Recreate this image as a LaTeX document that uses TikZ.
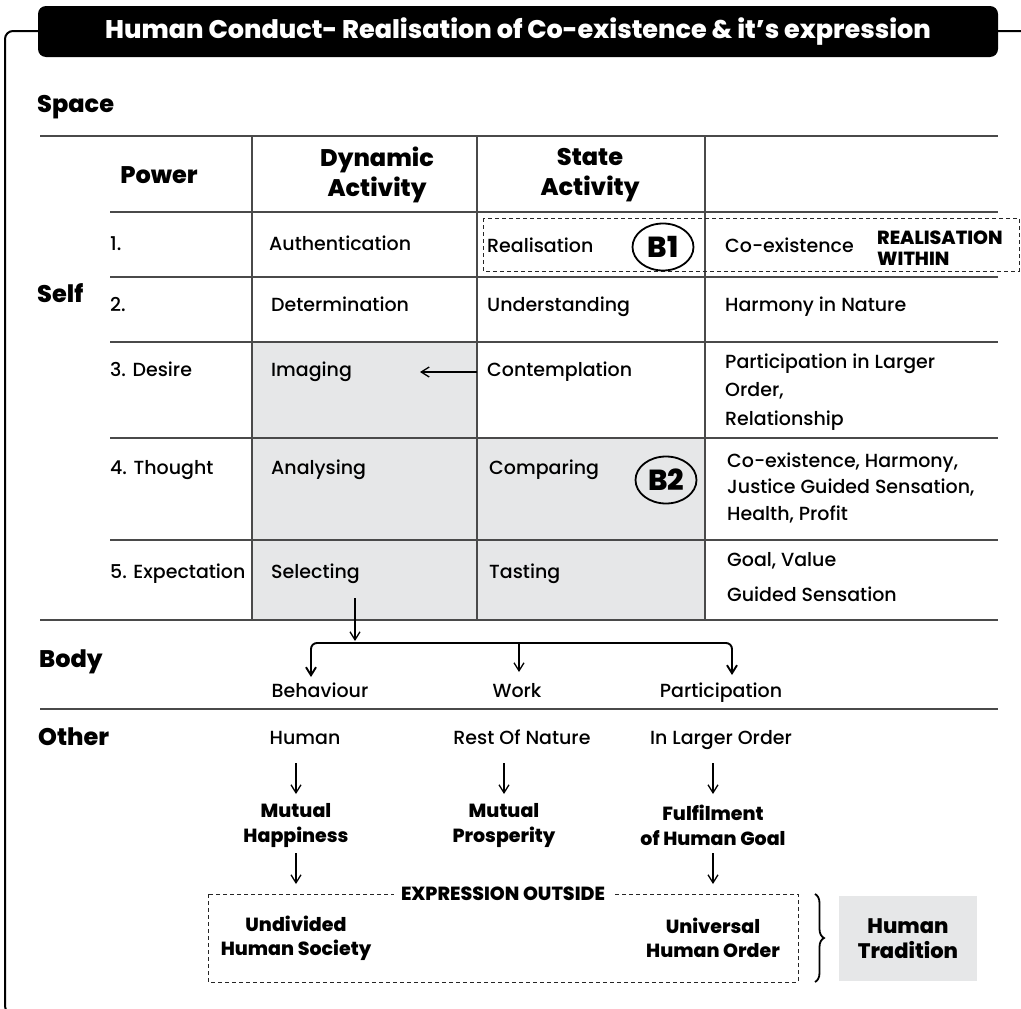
\documentclass[tikz,border=0pt]{standalone}
\usepackage{fontspec}
\setmainfont{Poppins}[UprightFont={* Medium}]
\usetikzlibrary{arrows.meta,shapes.geometric,decorations.pathreplacing,calc}
\definecolor{cellgray}{HTML}{E6E7E8}
\definecolor{rulegray}{HTML}{4A4A4A}

\tikzset{
  gridline/.style={draw=rulegray, line width=1.5pt},
  frameline/.style={draw=black, line width=2pt},
  cell/.style={anchor=west, inner sep=0pt, text height=14pt, text depth=5pt,
               font=\fontsize{19}{24}\selectfont},
  cellm/.style={anchor=west, inner sep=0pt, align=left,
               font=\fontsize{19}{28.5}\selectfont},
  head/.style={inner sep=0pt, align=center, font=\bfseries\fontsize{24}{30}\selectfont},
  side/.style={anchor=west, inner sep=0pt, text height=17pt, text depth=6pt,
               font=\bfseries\fontsize{24}{28}\selectfont},
  lbl/.style={inner sep=0pt, text height=14pt, text depth=5pt, font=\fontsize{19}{24}\selectfont},
  boldlbl/.style={inner sep=0pt, align=center, font=\bfseries\fontsize{19}{25}\selectfont},
  arr/.style={-{Straight Barb[length=8pt,width=10pt]}, line width=1.3pt},
  badge/.style={ellipse, draw, line width=1.8pt, minimum width=61pt, minimum height=47pt,
                inner sep=0pt, font=\bfseries\fontsize{29}{30}\selectfont},
  dbox/.style={draw=black!85, line width=0.9pt, dash pattern=on 4pt off 3pt},
}

\begin{document}
\begin{tikzpicture}[x=1pt,y=-1pt]
\clip (0,0) rectangle (1021,1009);

% outer frame
\draw[frameline, rounded corners=8pt] (1030,31) -- (5,31) -- (5,1014) -- (40,1014);

% title bar
\node[fill=black, rounded corners=8pt, minimum width=960pt, minimum height=51pt,
      inner sep=0pt, text=white, font=\bfseries\fontsize{25.5}{28}\selectfont]
      (title) at (518,31.5) {Human Conduct- Realisation of Co-existence \& it’s expression};

% shaded cells
\fill[cellgray] (252,342) rectangle (477,620);
\fill[cellgray] (477,438) rectangle (705,620);

% table rules
\draw[gridline] (40,136) -- (998,136);
\foreach \yy in {212,277,342,438,540} \draw[gridline] (110,\yy) -- (998,\yy);
\draw[gridline] (40,620) -- (998,620);
\draw[gridline] (40,709) -- (998,709);
\foreach \xx in {252,477,705} \draw[gridline] (\xx,136) -- (\xx,620);

% section labels
\node[side] (space) at (37,107) {Space};
\node[side] (self)  at (37,297) {Self};
\node[side] (body)  at (39,662) {Body};
\node[side] (other) at (38,740) {Other};

% header
\node[head] (hpow) at (159,175) {Power};
\node[head] (hdyn) at (377,175) {Dynamic\\Activity};
\node[head] (hsta) at (590,175) {State\\Activity};

% power column
\node[cell] (p1) at (110,246) {1.};
\node[cell] (p2) at (110,307) {2.};
\node[cell] (p3) at (110,372) {3. Desire};
\node[cell] (p4) at (110,470) {4. Thought};
\node[cell] (p5) at (110,574) {5. Expectation};

% dynamic activity column
\node[cell] (d1) at (269,246) {Authentication};
\node[cell] (d2) at (271,307) {Determination};
\node[cell] (d3) at (271,372) {Imaging};
\node[cell] (d4) at (271,470) {Analysing};
\node[cell] (d5) at (271,574) {Selecting};

% state activity column
\node[cell] (s1) at (487,248) {Realisation};
\node[cell] (s2) at (487,307) {Understanding};
\node[cell] (s3) at (487,372) {Contemplation};
\node[cell] (s4) at (489,470) {Comparing};
\node[cell] (s5) at (489,574) {Tasting};

% outcome column
\node[cell] (o1) at (725,248) {Co-existence};
\node[cell] (o2) at (725,307) {Harmony in Nature};
\node[cellm] (o3) at (725,392) {Participation in Larger\\Order,\\Relationship};
\node[cellm, font=\fontsize{19}{26.5}\selectfont] (o4) at (727,488)
      {Co-existence, Harmony,\\Justice Guided Sensation,\\Health, Profit};
\node[cell] (o5a) at (727,562) {Goal, Value};
\node[cell] (o5b) at (727,597) {Guided Sensation};

% realisation within
\draw[dbox] (483,218) rectangle (1019,271);
\node[anchor=west, inner sep=0pt, align=left, font=\bfseries\fontsize{19}{20.5}\selectfont]
      (within) at (877,248) {REALISATION\\WITHIN};
\node[badge] (b1) at (663,247) {B1};
\node[badge] (b2) at (666,480) {B2};

% contemplation feeds imaging
\coordinate (c3l) at (477,372);
\coordinate (i3r) at (420,372);
\draw[arr] (c3l) -- (i3r);

% selecting splits into behaviour, work, participation
\coordinate (selb) at (355,598);
\coordinate (selh) at (355,641);
\coordinate (split) at (519,643);
\draw[arr] (selb) -- (selh);
\node[lbl] (beh)  at (320,693) {Behaviour};
\node[lbl] (work) at (517,693) {Work};
\node[lbl] (part) at (721,693) {Participation};
\coordinate (behtop)  at (311,677);
\coordinate (worktop) at (519,672);
\coordinate (parttop) at (732,675);
\draw[arr, line width=1.9pt, rounded corners=6pt] (split) -| (behtop);
\draw[arr, line width=1.9pt, rounded corners=6pt] (split) -| (parttop);
\draw[arr] (split) -- (worktop);

% other
\node[lbl] (hum)  at (305,740) {Human};
\node[lbl] (rest) at (522,740) {Rest Of Nature};
\node[lbl] (lord) at (721,740) {In Larger Order};

\node[boldlbl] (mh) at (296,825.5) {Mutual\\Happiness};
\node[boldlbl] (mp) at (504,825.5) {Mutual\\Prosperity};
\node[boldlbl] (fg) at (713,825.5) {Fulfilment\\of Human Goal};

\draw[arr] (296,763) -- (296,794);
\draw[arr] (504,763) -- (504,794);
\draw[arr] (713,763) -- (713,794);
\draw[arr] (296,853) -- (296,884);
\draw[arr] (713,853) -- (713,884);

% expression outside
\draw[dbox] (208,894) rectangle (798,982);
\node[fill=white, inner xsep=7pt, inner ysep=2pt, font=\bfseries\fontsize{19}{20}\selectfont]
      (expr) at (503,894) {EXPRESSION OUTSIDE};
\node[boldlbl, font=\bfseries\fontsize{19}{24}\selectfont] (uhs) at (296,938) {Undivided\\Human Society};
\node[boldlbl, font=\bfseries\fontsize{19}{24}\selectfont] (uho) at (713,938) {Universal\\Human Order};

% human tradition
\draw[line width=1.8pt, decorate, decoration={brace, amplitude=9pt}] (815,894) -- (815,982);
\node[fill=cellgray, minimum width=138pt, minimum height=85pt, inner sep=0pt, align=center,
      font=\bfseries\fontsize{21}{25}\selectfont] (trad) at (908,938.5) {Human\\Tradition};

\end{tikzpicture}
\end{document}
